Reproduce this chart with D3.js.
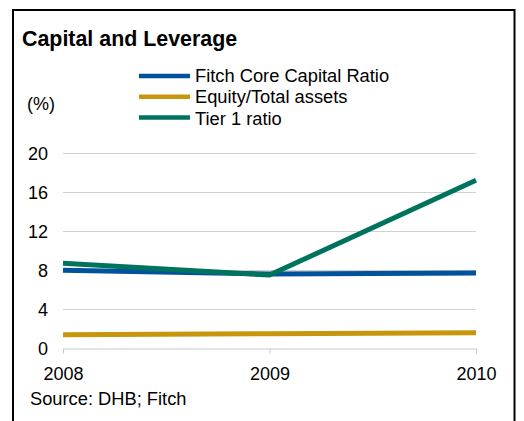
<!DOCTYPE html>
<html>
<head>
<meta charset="utf-8">
<script src="https://cdn.jsdelivr.net/npm/d3@7"></script>
<style>
  html, body { margin: 0; padding: 0; background: #fff; }
  svg { display: block; font-family: "Liberation Sans", Arial, sans-serif; }
</style>
</head>
<body>
<svg id="chart" width="524" height="421"></svg>
<script>
// Years on the x axis
const years = ["2008", "2009", "2010"];
// Ratios in percent, one array per series
const fitchCore = [8.0, 7.6, 7.7];
const equityAssets = [1.4, 1.5, 1.6];
const tier1 = [8.7, 7.5, 17.2];
// Y axis tick values
const yTicks = [0, 4, 8, 12, 16, 20];

const seriesNames = ["Fitch Core Capital Ratio", "Equity/Total assets", "Tier 1 ratio"];
const seriesColors = ["#00529B", "#C8960C", "#00735E"];
const seriesValues = [fitchCore, equityAssets, tier1];

const svg = d3.select("#chart");

// Outer frame
svg.append("rect")
  .attr("x", 13).attr("y", 10)
  .attr("width", 501.5).attr("height", 430)
  .attr("fill", "none").attr("stroke", "#000").attr("stroke-width", 2);

// Title
svg.append("text")
  .attr("x", 22).attr("y", 46)
  .attr("font-size", 21.4).attr("font-weight", "bold")
  .attr("fill", "#000")
  .text("Capital and Leverage");

// Unit label
svg.append("text")
  .attr("x", 27).attr("y", 110)
  .attr("font-size", 18).attr("fill", "#000")
  .text("(%)");

// Legend
const legend = svg.append("g");
seriesNames.forEach((name, i) => {
  const ly = 76 + i * 20.7;
  legend.append("line")
    .attr("x1", 139).attr("x2", 190)
    .attr("y1", ly).attr("y2", ly)
    .attr("stroke", seriesColors[i]).attr("stroke-width", 4.5);
  legend.append("text")
    .attr("x", 195).attr("y", 81.5 + i * 21.7)
    .attr("font-size", 18.3).attr("fill", "#000")
    .text(name);
});

// Scales
const x = d3.scalePoint().domain(years).range([63, 476]);
const y = d3.scaleLinear().domain([0, 20]).range([348.3, 153]);

// Horizontal gridlines
svg.append("g")
  .selectAll("line")
  .data(yTicks.filter(t => t > 0))
  .join("line")
  .attr("x1", 63).attr("x2", 476)
  .attr("y1", d => Math.round(y(d)) + 0.5)
  .attr("y2", d => Math.round(y(d)) + 0.5)
  .attr("stroke", "#d0d0d0").attr("stroke-width", 1);

// Y axis labels
const yAxis = d3.axisLeft(y).tickValues(yTicks).tickSize(0).tickPadding(0);
const yg = svg.append("g").attr("transform", "translate(48,0)").call(yAxis);
yg.select(".domain").remove();
yg.selectAll("text")
  .attr("font-size", 18).attr("font-family", "Liberation Sans, Arial, sans-serif")
  .attr("fill", "#000").attr("dy", "0.35em");

// X axis
const xAxis = d3.axisBottom(x).tickSize(5).tickPadding(14).tickSizeOuter(0);
const xg = svg.append("g").attr("transform", `translate(0,${Math.round(y(0)) + 0.5})`).call(xAxis);
xg.select(".domain").attr("stroke", "#c8c8c8");
xg.selectAll(".tick line").attr("stroke", "#c8c8c8");
xg.selectAll("text")
  .attr("font-size", 18).attr("font-family", "Liberation Sans, Arial, sans-serif")
  .attr("fill", "#000");

// Series lines
const line = d3.line()
  .x((d, i) => x(years[i]))
  .y(d => y(d));

seriesValues.forEach((vals, i) => {
  svg.append("path")
    .datum(vals)
    .attr("d", line)
    .attr("fill", "none")
    .attr("stroke", seriesColors[i])
    .attr("stroke-width", 5)
    .attr("stroke-linejoin", "miter");
});

// Source note
svg.append("text")
  .attr("x", 30).attr("y", 405)
  .attr("font-size", 18.3).attr("fill", "#000")
  .text("Source: DHB; Fitch");
</script>
</body>
</html>
